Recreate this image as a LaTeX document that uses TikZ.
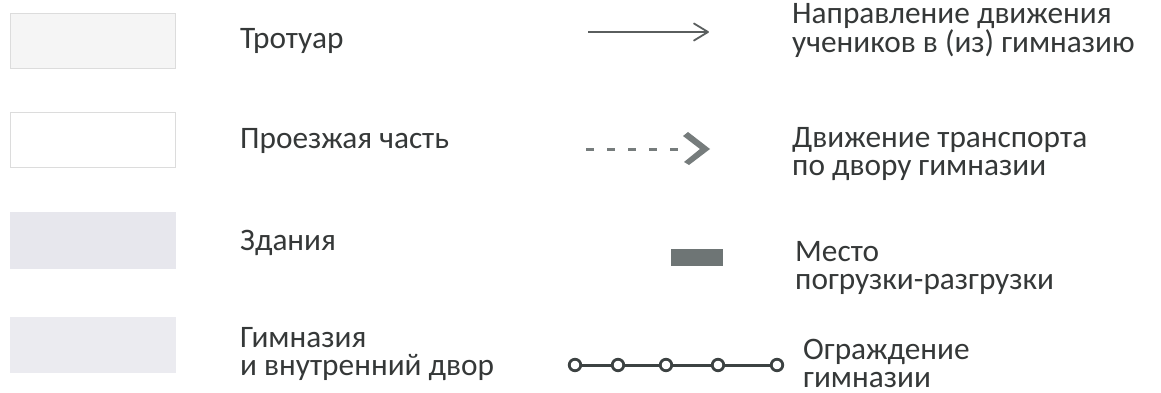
\documentclass[tikz,border=0pt]{standalone}
\usepackage{fontspec}
\setmainfont{Carlito}
\begin{document}
\begin{tikzpicture}[x=1pt,y=-1pt,
  lbl/.style={anchor=base west,inner sep=0pt,text=txtgray,font=\fontsize{31.3}{28}\selectfont,align=left},
  swatch/.style={draw=boxedge,line width=0.8pt},
  walk/.style={draw=arrowgray,line width=1.8pt},
  ride/.style={draw=dashgray,line width=3pt,dash pattern=on 8pt off 13pt},
  fence/.style={draw=fencegray,line width=3pt},
  post/.style={circle,draw=fencegray,fill=white,line width=2.8pt,minimum size=11.5pt,inner sep=0pt}]
\definecolor{txtgray}{HTML}{353838}
\definecolor{boxedge}{HTML}{DCDCDC}
\definecolor{arrowgray}{HTML}{5A5E5E}
\definecolor{dashgray}{HTML}{767C7C}
\definecolor{fencegray}{HTML}{3C4242}
\definecolor{loadgray}{HTML}{6E7575}
\definecolor{bldg}{HTML}{E7E7ED}
\definecolor{school}{HTML}{EBEBF0}
\useasboundingbox (0,0) rectangle (1161,393);
\fill[white] (0,0) rectangle (1161,393);
% swatches
\path[swatch,fill=white!96!black] (10,13) rectangle (175,68) node[midway,inner sep=0pt] (s1) {};
\path[swatch,fill=white] (10,112) rectangle (175,167) node[midway,inner sep=0pt] (s2) {};
\path[fill=bldg,draw=bldg] (10,212) rectangle (175,268) node[midway,inner sep=0pt] (s3) {};
\path[fill=school,draw=school] (10,317) rectangle (175,372) node[midway,inner sep=0pt] (s4) {};
% left labels
\node[lbl] (t1) at (240,49) {Тротуар};
\node[lbl] (t2) at (240,148) {Проезжая часть};
\node[lbl] (t3) at (240,250) {Здания};
\node[lbl] (t4) at (240,375) {Гимназия\\и внутренний двор};
% right labels
\node[lbl] (r1) at (792,53) {Направление движения\\учеников в (из) гимназию};
\node[lbl] (r2) at (792,175) {Движение транспорта\\по двору гимназии};
\node[lbl] (r3) at (795,289) {Место\\погрузки-разгрузки};
\node[lbl] (r4) at (803,387) {Ограждение\\гимназии};
% walking arrow
\coordinate (a1s) at (588,32);
\coordinate (a1e) at (708,32);
\draw[walk] (a1s) -- (a1e);
\draw[walk,line cap=round,line join=round] ([xshift=-14pt,yshift=-8.5pt]a1e) -- (a1e) -- ([xshift=-14pt,yshift=8.5pt]a1e);
% transport arrow
\coordinate (a2s) at (586,149);
\coordinate (a2e) at (710,149);
\draw[ride] (a2s) -- (684,149);
\fill[dashgray] (683,136) -- (688,132) -- (a2e) -- (689,165) -- (684,162) -- (700,149) -- cycle;
% loading place
\fill[loadgray] (671,249) rectangle (723,266) node[midway,inner sep=0pt] (ld) {};
% fence
\node[post] (p1) at (575,365) {};
\node[post] (p2) at (618,365) {};
\node[post] (p3) at (666,365) {};
\node[post] (p4) at (718,365) {};
\node[post] (p5) at (777,365) {};
\draw[fence] (p1) -- (p2) (p2) -- (p3) (p3) -- (p4) (p4) -- (p5);
\end{tikzpicture}
\end{document}
